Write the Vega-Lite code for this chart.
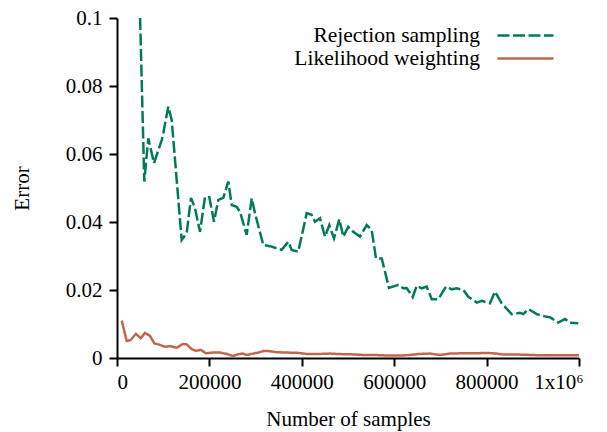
{
  "$schema": "https://vega.github.io/schema/vega-lite/v6.json",
  "width": 462,
  "height": 340,
  "autosize": {"type": "none"},
  "padding": {"left": 117, "top": 18, "right": 28, "bottom": 74},
  "background": "white",
  "config": {
    "view": {"stroke": null},
    "font": "Liberation Serif",
    "axis": {
      "grid": false,
      "domainColor": "black",
      "domainWidth": 2,
      "tickColor": "black",
      "tickWidth": 2,
      "tickSize": 8,
      "labelColor": "black",
      "labelFont": "Liberation Serif",
      "labelFontSize": 21,
      "titleFont": "Liberation Serif",
      "titleFontSize": 21,
      "titleFontWeight": "normal",
      "titleColor": "black"
    },
    "legend": {
      "orient": "none",
      "legendX": 397,
      "legendY": 6,
      "title": null,
      "symbolType": "M-2.8,0H2.8",
      "symbolSize": 400,
      "symbolStrokeWidth": 2.5,
      "symbolFillColor": "transparent",
      "labelFont": "Liberation Serif",
      "labelFontSize": 21.5,
      "labelColor": "black",
      "labelAlign": "right",
      "labelOffset": -57,
      "labelLimit": 400,
      "rowPadding": 1
    }
  },
  "data": {
    "values": [
      {"series": "Rejection sampling", "n": 50000, "error": 0.1},
      {"series": "Rejection sampling", "n": 59100, "error": 0.0519},
      {"series": "Rejection sampling", "n": 67700, "error": 0.0646},
      {"series": "Rejection sampling", "n": 80100, "error": 0.0573},
      {"series": "Rejection sampling", "n": 96800, "error": 0.0641},
      {"series": "Rejection sampling", "n": 100200, "error": 0.0662},
      {"series": "Rejection sampling", "n": 111000, "error": 0.0739},
      {"series": "Rejection sampling", "n": 118400, "error": 0.07},
      {"series": "Rejection sampling", "n": 140000, "error": 0.0347},
      {"series": "Rejection sampling", "n": 150900, "error": 0.0368},
      {"series": "Rejection sampling", "n": 160200, "error": 0.0471},
      {"series": "Rejection sampling", "n": 168800, "error": 0.0441},
      {"series": "Rejection sampling", "n": 179700, "error": 0.0371},
      {"series": "Rejection sampling", "n": 190500, "error": 0.0474},
      {"series": "Rejection sampling", "n": 199800, "error": 0.0473},
      {"series": "Rejection sampling", "n": 210000, "error": 0.0401},
      {"series": "Rejection sampling", "n": 219300, "error": 0.0465},
      {"series": "Rejection sampling", "n": 230100, "error": 0.0471},
      {"series": "Rejection sampling", "n": 240900, "error": 0.0519},
      {"series": "Rejection sampling", "n": 248300, "error": 0.045},
      {"series": "Rejection sampling", "n": 259100, "error": 0.0445},
      {"series": "Rejection sampling", "n": 266200, "error": 0.043},
      {"series": "Rejection sampling", "n": 280700, "error": 0.0362},
      {"series": "Rejection sampling", "n": 291600, "error": 0.047},
      {"series": "Rejection sampling", "n": 298700, "error": 0.0426},
      {"series": "Rejection sampling", "n": 316700, "error": 0.0332},
      {"series": "Rejection sampling", "n": 331200, "error": 0.0329},
      {"series": "Rejection sampling", "n": 356500, "error": 0.0318},
      {"series": "Rejection sampling", "n": 370800, "error": 0.0342},
      {"series": "Rejection sampling", "n": 378100, "error": 0.0318},
      {"series": "Rejection sampling", "n": 392400, "error": 0.0313},
      {"series": "Rejection sampling", "n": 410600, "error": 0.0426},
      {"series": "Rejection sampling", "n": 421400, "error": 0.0421},
      {"series": "Rejection sampling", "n": 428600, "error": 0.0401},
      {"series": "Rejection sampling", "n": 439400, "error": 0.0411},
      {"series": "Rejection sampling", "n": 450200, "error": 0.0357},
      {"series": "Rejection sampling", "n": 459500, "error": 0.0391},
      {"series": "Rejection sampling", "n": 469700, "error": 0.0352},
      {"series": "Rejection sampling", "n": 481200, "error": 0.0408},
      {"series": "Rejection sampling", "n": 489800, "error": 0.0357},
      {"series": "Rejection sampling", "n": 500600, "error": 0.0386},
      {"series": "Rejection sampling", "n": 511500, "error": 0.0371},
      {"series": "Rejection sampling", "n": 526000, "error": 0.0357},
      {"series": "Rejection sampling", "n": 540500, "error": 0.0391},
      {"series": "Rejection sampling", "n": 551300, "error": 0.0376},
      {"series": "Rejection sampling", "n": 560600, "error": 0.0293},
      {"series": "Rejection sampling", "n": 573000, "error": 0.0293},
      {"series": "Rejection sampling", "n": 588700, "error": 0.0206},
      {"series": "Rejection sampling", "n": 608900, "error": 0.0215},
      {"series": "Rejection sampling", "n": 619700, "error": 0.0205},
      {"series": "Rejection sampling", "n": 627000, "error": 0.0206},
      {"series": "Rejection sampling", "n": 640000, "error": 0.0179},
      {"series": "Rejection sampling", "n": 648700, "error": 0.0212},
      {"series": "Rejection sampling", "n": 659500, "error": 0.0205},
      {"series": "Rejection sampling", "n": 670300, "error": 0.021},
      {"series": "Rejection sampling", "n": 681200, "error": 0.0173},
      {"series": "Rejection sampling", "n": 695500, "error": 0.0173},
      {"series": "Rejection sampling", "n": 712100, "error": 0.021},
      {"series": "Rejection sampling", "n": 724500, "error": 0.0202},
      {"series": "Rejection sampling", "n": 735300, "error": 0.0205},
      {"series": "Rejection sampling", "n": 749600, "error": 0.02},
      {"series": "Rejection sampling", "n": 760400, "error": 0.018},
      {"series": "Rejection sampling", "n": 778600, "error": 0.0163},
      {"series": "Rejection sampling", "n": 789400, "error": 0.0168},
      {"series": "Rejection sampling", "n": 807400, "error": 0.0161},
      {"series": "Rejection sampling", "n": 818200, "error": 0.0195},
      {"series": "Rejection sampling", "n": 832700, "error": 0.0161},
      {"series": "Rejection sampling", "n": 854300, "error": 0.0129},
      {"series": "Rejection sampling", "n": 872300, "error": 0.0133},
      {"series": "Rejection sampling", "n": 879400, "error": 0.0129},
      {"series": "Rejection sampling", "n": 890300, "error": 0.0144},
      {"series": "Rejection sampling", "n": 908400, "error": 0.0129},
      {"series": "Rejection sampling", "n": 930100, "error": 0.0121},
      {"series": "Rejection sampling", "n": 937200, "error": 0.012},
      {"series": "Rejection sampling", "n": 955200, "error": 0.0104},
      {"series": "Rejection sampling", "n": 969700, "error": 0.0115},
      {"series": "Rejection sampling", "n": 980500, "error": 0.0104},
      {"series": "Rejection sampling", "n": 998500, "error": 0.0102},
      {"series": "Likelihood weighting", "n": 10200, "error": 0.011},
      {"series": "Likelihood weighting", "n": 21000, "error": 0.005},
      {"series": "Likelihood weighting", "n": 29600, "error": 0.0053},
      {"series": "Likelihood weighting", "n": 41100, "error": 0.0071},
      {"series": "Likelihood weighting", "n": 51300, "error": 0.0058},
      {"series": "Likelihood weighting", "n": 60600, "error": 0.0074},
      {"series": "Likelihood weighting", "n": 71400, "error": 0.0065},
      {"series": "Likelihood weighting", "n": 80800, "error": 0.0043},
      {"series": "Likelihood weighting", "n": 89400, "error": 0.004},
      {"series": "Likelihood weighting", "n": 103900, "error": 0.0033},
      {"series": "Likelihood weighting", "n": 114700, "error": 0.0035},
      {"series": "Likelihood weighting", "n": 129200, "error": 0.003},
      {"series": "Likelihood weighting", "n": 142200, "error": 0.0041},
      {"series": "Likelihood weighting", "n": 150900, "error": 0.004},
      {"series": "Likelihood weighting", "n": 161700, "error": 0.0026},
      {"series": "Likelihood weighting", "n": 171000, "error": 0.0021},
      {"series": "Likelihood weighting", "n": 181200, "error": 0.0024},
      {"series": "Likelihood weighting", "n": 192600, "error": 0.0014},
      {"series": "Likelihood weighting", "n": 208500, "error": 0.0016},
      {"series": "Likelihood weighting", "n": 222900, "error": 0.0016},
      {"series": "Likelihood weighting", "n": 237400, "error": 0.0012},
      {"series": "Likelihood weighting", "n": 250400, "error": 0.0006},
      {"series": "Likelihood weighting", "n": 262600, "error": 0.0011},
      {"series": "Likelihood weighting", "n": 272100, "error": 0.0013},
      {"series": "Likelihood weighting", "n": 280700, "error": 0.0009},
      {"series": "Likelihood weighting", "n": 295100, "error": 0.0013},
      {"series": "Likelihood weighting", "n": 305900, "error": 0.0016},
      {"series": "Likelihood weighting", "n": 318200, "error": 0.0021},
      {"series": "Likelihood weighting", "n": 331200, "error": 0.002},
      {"series": "Likelihood weighting", "n": 345700, "error": 0.0017},
      {"series": "Likelihood weighting", "n": 367300, "error": 0.0016},
      {"series": "Likelihood weighting", "n": 392400, "error": 0.0015},
      {"series": "Likelihood weighting", "n": 410600, "error": 0.0012},
      {"series": "Likelihood weighting", "n": 439400, "error": 0.0012},
      {"series": "Likelihood weighting", "n": 461000, "error": 0.0013},
      {"series": "Likelihood weighting", "n": 489800, "error": 0.0011},
      {"series": "Likelihood weighting", "n": 504300, "error": 0.0011},
      {"series": "Likelihood weighting", "n": 533100, "error": 0.0009},
      {"series": "Likelihood weighting", "n": 554800, "error": 0.0009},
      {"series": "Likelihood weighting", "n": 590900, "error": 0.0007},
      {"series": "Likelihood weighting", "n": 612600, "error": 0.0007},
      {"series": "Likelihood weighting", "n": 634200, "error": 0.0009},
      {"series": "Likelihood weighting", "n": 655800, "error": 0.0012},
      {"series": "Likelihood weighting", "n": 677500, "error": 0.0013},
      {"series": "Likelihood weighting", "n": 699100, "error": 0.0009},
      {"series": "Likelihood weighting", "n": 720800, "error": 0.0013},
      {"series": "Likelihood weighting", "n": 749600, "error": 0.0014},
      {"series": "Likelihood weighting", "n": 778600, "error": 0.0014},
      {"series": "Likelihood weighting", "n": 800200, "error": 0.0015},
      {"series": "Likelihood weighting", "n": 821900, "error": 0.0013},
      {"series": "Likelihood weighting", "n": 836200, "error": 0.001},
      {"series": "Likelihood weighting", "n": 872300, "error": 0.001},
      {"series": "Likelihood weighting", "n": 915600, "error": 0.0008},
      {"series": "Likelihood weighting", "n": 951700, "error": 0.0008},
      {"series": "Likelihood weighting", "n": 1000000, "error": 0.0008}
    ]
  },
  "mark": {"type": "line", "strokeWidth": 2.5, "clip": true},
  "encoding": {
    "x": {
      "field": "n",
      "type": "quantitative",
      "scale": {"domain": [0, 1000000], "nice": false},
      "axis": {
        "values": [0, 200000, 400000, 600000, 800000, 1000000],
        "labelExpr": "datum.value == 1000000 ? '1x10⁶' : format(datum.value, 'd')",
        "labelOffset": {"condition": {"test": "datum.value == 1000000", "value": 4}, "value": 0},
        "labelPadding": 5,
        "titlePadding": 16,
        "title": "Number of samples"
      }
    },
    "y": {
      "field": "error",
      "type": "quantitative",
      "scale": {"domain": [0, 0.1], "nice": false},
      "axis": {
        "values": [0, 0.02, 0.04, 0.06, 0.08, 0.1],
        "format": "~g",
        "labelPadding": 7,
        "titlePadding": 33,
        "title": "Error"
      }
    },
    "color": {
      "field": "series",
      "type": "nominal",
      "scale": {"domain": ["Rejection sampling", "Likelihood weighting"], "range": ["#007a5a", "#c4664b"]}
    },
    "strokeDash": {
      "field": "series",
      "type": "nominal",
      "scale": {"domain": ["Rejection sampling", "Likelihood weighting"], "range": [[12, 3.5], [1, 0]]}
    }
  }
}
